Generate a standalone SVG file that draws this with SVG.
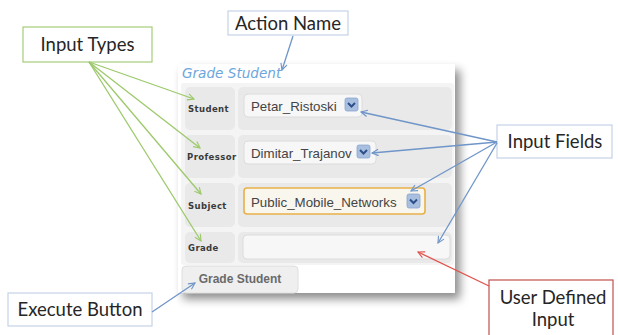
<svg xmlns="http://www.w3.org/2000/svg" width="618" height="335" viewBox="0 0 618 335">
<defs>
<style>
.note{font-family:Lato,"Open Sans","Liberation Sans",sans-serif;font-size:18.5px;fill:#262626}
.box{fill:#fff;stroke-width:1.2}
.lab{font-family:"DejaVu Sans","Liberation Sans",sans-serif;font-size:8.5px;fill:#3a3a3a;font-weight:bold;letter-spacing:0.4px}
.val{font-family:"Liberation Sans",Arial,sans-serif;font-size:13.3px;fill:#444}
.cell{fill:#e9e9e9}
.sel{fill:#f7f7f7;stroke:#dcdcdc;stroke-width:1}
.dd{fill:#a9bfe0;stroke:#8aa6d0;stroke-width:0.8}
.ch{fill:none;stroke:#2d4f8a;stroke-width:2}
.g{stroke:#9cc96b;stroke-width:1.3;fill:none;marker-end:url(#ag)}
.b{stroke:#6f95c9;stroke-width:1.3;fill:none;marker-end:url(#ab)}
.r{stroke:#e0524a;stroke-width:1.3;fill:none;marker-end:url(#ar)}
</style>
<marker id="ag" viewBox="0 0 10 10" refX="9" refY="5" markerWidth="8" markerHeight="8" orient="auto" markerUnits="userSpaceOnUse"><path d="M1,1 L9,5 L1,9" fill="none" stroke="#9cc96b" stroke-width="1.4"/></marker>
<marker id="ab" viewBox="0 0 10 10" refX="9" refY="5" markerWidth="8" markerHeight="8" orient="auto" markerUnits="userSpaceOnUse"><path d="M1,1 L9,5 L1,9" fill="none" stroke="#6f95c9" stroke-width="1.4"/></marker>
<marker id="ar" viewBox="0 0 10 10" refX="9" refY="5" markerWidth="8" markerHeight="8" orient="auto" markerUnits="userSpaceOnUse"><path d="M1,1 L9,5 L1,9" fill="none" stroke="#e0524a" stroke-width="1.4"/></marker>
<filter id="sh" x="-10%" y="-10%" width="125%" height="125%"><feDropShadow dx="5" dy="6" stdDeviation="5" flood-color="#000" flood-opacity="0.45"/></filter>
</defs>
<rect width="618" height="335" fill="#fff"/>

<g id="form">
<rect x="178" y="64" width="277" height="229" fill="#fff" filter="url(#sh)"/>
<text x="182" y="78" font-family="'DejaVu Sans','Liberation Sans',sans-serif" font-size="13.6" font-style="italic" fill="#6ea6dc">Grade Student</text>
<rect x="181" y="83" width="273" height="182" rx="3" fill="#f4f4f4"/>
<g id="row-student">
<rect class="cell" x="185" y="87" width="50" height="43" rx="5"/>
<rect class="cell" x="238" y="87" width="214" height="43" rx="5"/>
<text class="lab" x="188" y="112">Student</text>
<rect class="sel" x="244" y="94" width="118" height="23" rx="4"/>
<text class="val" x="251" y="111">Petar_Ristoski</text>
<rect class="dd" x="345" y="98" width="13" height="13" rx="2"/><path class="ch" d="M348,103 L351.5,106.5 L355,103"/>
</g>
<g id="row-professor">
<rect class="cell" x="185" y="135" width="50" height="43" rx="5"/>
<rect class="cell" x="238" y="135" width="214" height="43" rx="5"/>
<text class="lab" x="187" y="160">Professor</text>
<rect class="sel" x="244" y="141" width="132" height="23" rx="4"/>
<text class="val" x="251" y="158">Dimitar_Trajanov</text>
<rect class="dd" x="357" y="145" width="13" height="13" rx="2"/><path class="ch" d="M360,150 L363.5,153.5 L367,150"/>
</g>
<g id="row-subject">
<rect class="cell" x="185" y="183" width="50" height="44" rx="5"/>
<rect class="cell" x="238" y="183" width="214" height="44" rx="5"/>
<text class="lab" x="188" y="209">Subject</text>
<rect x="244" y="188" width="181" height="26" rx="3" fill="#f9f6ee" stroke="#e8b04a" stroke-width="1.6"/>
<text class="val" x="251" y="207">Public_Mobile_Networks</text>
<rect class="dd" x="407" y="194" width="13" height="14" rx="2"/><path class="ch" d="M410,199.5 L413.5,203 L417,199.5"/>
</g>
<g id="row-grade">
<rect class="cell" x="185" y="232" width="50" height="31" rx="5"/>
<rect class="cell" x="238" y="232" width="214" height="31" rx="5"/>
<text class="lab" x="188" y="251">Grade</text>
<rect class="sel" x="243" y="235" width="207" height="24" rx="4" fill="#f8f8f8"/>
</g>
<g id="execute">
<rect x="182" y="266" width="116" height="27" rx="4" fill="#efefef" stroke="#dedede"/>
<text x="240" y="283" text-anchor="middle" font-family="'Liberation Sans',Arial,sans-serif" font-size="12" font-weight="bold" fill="#6a6a6a">Grade Student</text>
</g>
</g>

<g id="input-types">
<rect class="box" x="23" y="27" width="129" height="35" stroke="#a6cd7a"/>
<text class="note" x="87.5" y="51" text-anchor="middle">Input Types</text>
</g>
<g id="action-name">
<rect class="box" x="228" y="11" width="120" height="24" stroke="#c5d3e8"/>
<text class="note" x="288" y="30" text-anchor="middle">Action Name</text>
</g>
<g id="input-fields">
<rect class="box" x="497" y="125" width="115" height="33" stroke="#c5d3e8"/>
<text class="note" x="555" y="148" text-anchor="middle">Input Fields</text>
</g>
<g id="execute-button">
<rect class="box" x="8" y="293" width="144" height="33" stroke="#c5d3e8"/>
<text class="note" x="80" y="316" text-anchor="middle">Execute Button</text>
</g>
<g id="user-defined-input">
<rect class="box" x="489" y="280" width="124" height="60" stroke="#c0504d"/>
<text class="note" x="553" y="304" text-anchor="middle">User Defined</text>
<text class="note" x="553" y="326" text-anchor="middle">Input</text>
</g>

<g id="connectors">
<path class="b" d="M293,36 L282,70"/>
<path class="g" d="M89,62 L194,99"/>
<path class="g" d="M89,62 L200,148"/>
<path class="g" d="M89,62 L201,194"/>
<path class="g" d="M89,62 L201,241"/>
<path class="b" d="M497,142 L361,112"/>
<path class="b" d="M497,142 L372,153"/>
<path class="b" d="M497,142 L411,191"/>
<path class="b" d="M497,143 L438,243"/>
<path class="b" d="M152,312 L195,283"/>
<path class="r" d="M489,286 L418,252"/>
</g>
</svg>
